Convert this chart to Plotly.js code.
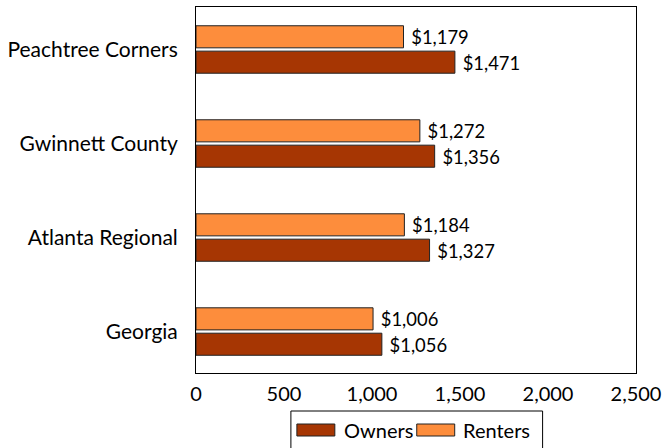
<!DOCTYPE html>
<html>
<head>
<script src="https://cdn.plot.ly/plotly-3.0.1.min.js"></script>
<style>html,body{margin:0;padding:0;background:#fff;}#chart{width:665px;height:448px;}</style>
</head>
<body>
<div id="chart"></div>
<script>
const categories = ["Georgia", "Atlanta Regional", "Gwinnett County", "Peachtree Corners"];
const seriesNames = ["Owners", "Renters"];
const owners = [1056, 1327, 1356, 1471];
const renters = [1006, 1184, 1272, 1179];
const tickVals = [0, 500, 1000, 1500, 2000, 2500];
const tickText = ["0", "500", "1,000", "1,500", "2,000", "2,500"];
const colors = ["#A63603", "#FD8D3C"];

const W = 665, H = 448, ML = 196, MR = 28.5, MT = 7, MB = 75;
const PW = W - ML - MR, PH = H - MT - MB;
const px = x => (x - ML) / PW;
const py = y => (H - MB - y) / PH;

const fontFam = "Lato, 'Open Sans', sans-serif";
const font = {family: fontFam, size: 20, color: "#000"};
const fmt = v => " $" + v.toLocaleString("en-US");

const traces = [owners, renters].map((vals, i) => ({
  type: "bar", orientation: "h", name: seriesNames[i], y: categories, x: vals,
  marker: {color: colors[i], line: {color: "#222", width: 1}},
  text: vals.map(fmt), textposition: "outside",
  textfont: font, cliponaxis: false, hoverinfo: "none", showlegend: false
}));

// legend drawn manually (wide swatches, box like the reference)
const shapes = [
  {type: "rect", xref: "paper", yref: "paper", x0: px(291), x1: px(543), y0: py(411), y1: py(452),
   line: {color: "#000", width: 1}, fillcolor: "rgba(0,0,0,0)"}
];
const annotations = [];
const swX = [297, 417], txtX = [342, 461];
seriesNames.forEach((n, i) => {
  shapes.push({type: "rect", xref: "paper", yref: "paper", x0: px(swX[i]), x1: px(swX[i] + 38),
    y0: py(424), y1: py(436), line: {color: "#222", width: 1}, fillcolor: colors[i]});
  annotations.push({xref: "paper", yref: "paper", x: px(txtX[i]), y: py(430), xanchor: "left", yanchor: "middle",
    text: n, showarrow: false, font: font});
});

const layout = {
  width: W, height: H,
  margin: {l: ML, r: MR, t: MT, b: MB},
  font: font,
  paper_bgcolor: "#fff", plot_bgcolor: "#fff",
  barmode: "group", bargap: 0.46, bargroupgap: 0.13,
  xaxis: {range: [0, 2500], tickvals: tickVals, ticktext: tickText, showgrid: false, zeroline: false,
          showline: true, mirror: true, linecolor: "#000", linewidth: 1, ticks: "", tickfont: font, ticklabelstandoff: 3},
  yaxis: {type: "category", range: [-0.441, 3.452], showgrid: false, zeroline: false,
          showline: true, mirror: true, linecolor: "#000", linewidth: 1, ticks: "",
          tickfont: {family: fontFam, size: 21, color: "#000"}, ticklabelstandoff: 13},
  showlegend: false,
  shapes: shapes,
  annotations: annotations
};

Plotly.newPlot("chart", traces, layout, {staticPlot: true});
</script>
</body>
</html>
